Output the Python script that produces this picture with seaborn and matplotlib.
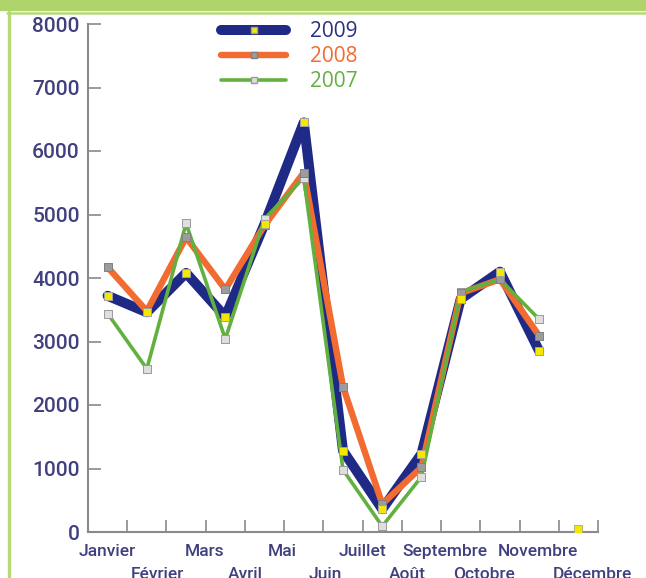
import matplotlib
matplotlib.use("Agg")
import matplotlib.pyplot as plt
import seaborn as sns
import pandas as pd
from matplotlib.patches import Rectangle
from matplotlib.lines import Line2D

# ================= Data =================
months = ["Janvier", "Février", "Mars", "Avril", "Mai", "Juin", "Juillet",
          "Août", "Septembre", "Octobre", "Novembre", "Décembre"]
slots = list(range(12))
values_2009 = [3720, 3460, 4080, 3390, 4850, 6450, 1280, 360, 1230, 3670, 4100, 2850]
values_2008 = [4170, 3480, 4640, 3820, 4830, 5660, 2290, 440, 1020, 3760, 3980, 3090]
values_2007 = [3440, 2570, 4860, 3040, 4930, 5580, 980, 90, 870, 3780, 3980, 3350]
# lone 2009 marker, not joined to the line
extra_slot_2009 = [12]
extra_value_2009 = [50]
yticks = [0, 1000, 2000, 3000, 4000, 5000, 6000, 7000, 8000]

# where the month names sit along the axis (slot units), two staggered rows
label_pos = [0.0, 1.28, 2.47, 3.52, 4.46, 5.54, 6.5, 7.65, 8.6, 9.59, 10.97, 12.37]

# ================= Style =================
sns.set_style("white")
plt.rcParams['font.family'] = ['Roboto', 'DejaVu Sans']

NAVY = "#1e2a86"
ORANGE = "#f26b30"
GREEN = "#62b03f"
TEXT = "#40407f"
AXIS = "#8a8a8a"

series = [
    ("2009", values_2009, NAVY, 7.2, "#f5e800", "#a0a0a0"),
    ("2008", values_2008, ORANGE, 4.6, "#9c9c9c", "#808080"),
    ("2007", values_2007, GREEN, 2.6, "#dedede", "#9a9a9a"),
]

df = pd.concat([
    pd.DataFrame({"slot": slots, "value": vals, "year": name})
    for name, vals, *_ in series
])

fig = plt.figure(figsize=(6.46, 5.78), dpi=100)
ax = fig.add_axes([88 / 646, 46 / 578, 510 / 646, 508 / 578])

# lines first, then markers on top (2009 markers last)
for name, vals, color, lw, mface, medge in series:
    sns.lineplot(data=df[df["year"] == name], x="slot", y="value", ax=ax,
                 color=color, linewidth=lw, solid_joinstyle="round",
                 solid_capstyle="round", zorder=2)
for name, vals, color, lw, mface, medge in reversed(series):
    sns.scatterplot(data=df[df["year"] == name], x="slot", y="value", ax=ax,
                    marker="s", s=28, color=mface, edgecolor=medge,
                    linewidth=0.7, zorder=3)
sns.scatterplot(x=extra_slot_2009, y=extra_value_2009, ax=ax, marker="s", s=34,
                color="#f5e800", edgecolor="#b8b070", linewidth=0.7, zorder=3)

ax.set_xlim(-0.5, 12.5)
ax.set_ylim(0, 8000)
ax.set_xlabel("")
ax.set_ylabel("")
ax.set_yticks(yticks)
ax.set_yticklabels([str(v) for v in yticks])
ax.set_xticks([s - 0.5 for s in range(14)])
ax.set_xticklabels([])
ax.tick_params(axis="both", direction="in", length=9, width=1.2, color=AXIS,
               bottom=True, left=True)
ax.tick_params(axis="y", labelsize=15, labelcolor=TEXT, pad=6)
for lab in ax.get_yticklabels():
    lab.set_fontweight("medium")
sns.despine(ax=ax, top=True, right=True)
for side in ["left", "bottom"]:
    ax.spines[side].set_color(AXIS)
    ax.spines[side].set_linewidth(1.5)

for i, (m, p) in enumerate(zip(months, label_pos)):
    y = -0.038 if i % 2 == 0 else -0.083
    ax.text(p, y, m, transform=ax.get_xaxis_transform(), ha="center", va="center",
            fontsize=12.5, color=TEXT, fontweight="medium", clip_on=False)

# legend
handles = [Line2D([0], [0], color=c, lw=lw, marker="s", markersize=5,
                  markerfacecolor=mf, markeredgecolor=me, solid_capstyle="round")
           for _, _, c, lw, mf, me in series]
leg = ax.legend(handles, [s[0] for s in series], loc="upper left",
                bbox_to_anchor=(0.245, 1.022), frameon=False, fontsize=15,
                handlelength=3.1, handletextpad=1.15, labelspacing=0.2,
                borderaxespad=0)
for txt, s in zip(leg.get_texts(), series):
    txt.set_color(s[2] if s[0] != "2009" else "#2c2f7d")
    txt.set_family(['Open Sans', 'DejaVu Sans'])

# green frame of the page
fig.patches.append(Rectangle((0, 1 - 10 / 578), 1, 10 / 578, transform=fig.transFigure,
                             color="#afd46b", zorder=0))
fig.lines.append(Line2D([7 / 646, 1], [1 - 12.5 / 578, 1 - 12.5 / 578],
                        transform=fig.transFigure, color="#b7da78", lw=1.8))
fig.lines.append(Line2D([8.5 / 646, 8.5 / 646], [0, 1 - 12 / 578],
                        transform=fig.transFigure, color="#b7da78", lw=2.4))

fig.savefig("out.png", dpi=100)
